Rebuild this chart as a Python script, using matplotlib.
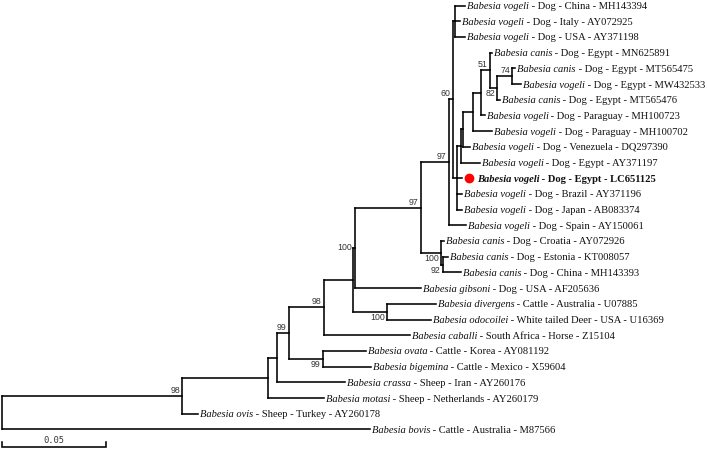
import matplotlib
matplotlib.use("Agg")
import matplotlib.pyplot as plt
from matplotlib.collections import LineCollection
from matplotlib import transforms

# ---------------- tree data (branch lengths in substitutions/site) ----------------
edge_child = ['A', 'M87566',
              'B', 'AY260178',
              'C', 'AY260179',
              'D', 'AY260176',
              'E', 'F',
              'G1', 'Z15104',
              'G2', 'I',
              'H', 'AF205636',
              'J', 'K',
              'L', 'AY150061',
              'M', 'N',
              'MH143394', 'AY072925', 'AY371198',
              'V1', 'LC651125', 'AY371196', 'AB083374',
              'U', 'AY371197',
              'T', 'DQ297390',
              'S', 'MH100702',
              'R', 'MH100723',
              'MN625891', 'Q',
              'P', 'MT565476',
              'MT565475', 'MW432533',
              'AY072926', 'K2',
              'KT008057', 'MH143393',
              'U07885', 'U16369',
              'AY081192', 'X59604']
edge_parent = ['root', 'root',
               'A', 'A',
               'B', 'B',
               'C', 'C',
               'D', 'D',
               'E', 'E',
               'G1', 'G1',
               'G2', 'G2',
               'H', 'H',
               'J', 'J',
               'L', 'L',
               'M', 'M', 'M',
               'N', 'N', 'N', 'N',
               'V1', 'V1',
               'U', 'U',
               'T', 'T',
               'S', 'S',
               'R', 'R',
               'Q', 'Q',
               'P', 'P',
               'K', 'K',
               'K2', 'K2',
               'I', 'I',
               'F', 'F']
edge_length = [0.0865, 0.1769,
               0.0413, 0.0077,
               0.0043, 0.0269,
               0.0058, 0.0327,
               0.0168, 0.0163,
               0.0139, 0.0413,
               0.0010, 0.0163,
               0.0317, 0.0317,
               0.0135, 0.0096,
               0.0019, 0.0082,
               0.0010, 0.0019,
               0.0048, 0.0024, 0.0048,
               0.0019, 0.0024, 0.0024, 0.0024,
               0.0010, 0.0091,
               0.0048, 0.0034,
               0.0038, 0.0091,
               0.0043, 0.0019,
               0.0010, 0.0038,
               0.0072, 0.0010,
               0.0014, 0.0043,
               0.0014, 0.0010,
               0.0024, 0.0087,
               0.0236, 0.0212,
               0.0207, 0.0231]

leaf_accession = ['MH143394', 'AY072925', 'AY371198', 'MN625891', 'MT565475', 'MW432533',
                  'MT565476', 'MH100723', 'MH100702', 'DQ297390', 'AY371197', 'LC651125',
                  'AY371196', 'AB083374', 'AY150061', 'AY072926', 'KT008057', 'MH143393',
                  'AF205636', 'U07885', 'U16369', 'Z15104', 'AY081192', 'X59604',
                  'AY260176', 'AY260179', 'AY260178', 'M87566']
leaf_species = ['Babesia vogeli', 'Babesia vogeli', 'Babesia vogeli', 'Babesia canis',
                'Babesia canis', 'Babesia vogeli', 'Babesia canis', 'Babesia vogeli',
                'Babesia vogeli', 'Babesia vogeli', 'Babesia vogeli', 'Babesia vogeli',
                'Babesia vogeli', 'Babesia vogeli', 'Babesia vogeli', 'Babesia canis',
                'Babesia canis', 'Babesia canis', 'Babesia gibsoni', 'Babesia divergens',
                'Babesia odocoilei', 'Babesia caballi', 'Babesia ovata', 'Babesia bigemina',
                'Babesia crassa', 'Babesia motasi', 'Babesia ovis', 'Babesia bovis']
leaf_desc = [' - Dog - China', ' - Dog - Italy', ' - Dog - USA', ' - Dog - Egypt',
             ' - Dog - Egypt', ' - Dog - Egypt', ' - Dog - Egypt', ' - Dog - Paraguay',
             ' - Dog - Paraguay', ' - Dog - Venezuela', ' - Dog - Egypt', ' - Dog - Egypt',
             ' - Dog - Brazil', ' - Dog - Japan', ' - Dog - Spain', ' - Dog - Croatia',
             ' - Dog - Estonia', ' - Dog - China', ' - Dog - USA', ' - Cattle - Australia',
             ' - White tailed Deer - USA', ' - South Africa - Horse', ' - Cattle - Korea',
             ' - Cattle - Mexico', ' - Sheep - Iran', ' - Sheep - Netherlands',
             ' - Sheep - Turkey', ' - Cattle - Australia']
highlight = 'LC651125'

boot_node = ['A', 'D', 'E', 'F', 'G2', 'I', 'H', 'J', 'L', 'K', 'K2', 'R', 'Q', 'P']
boot_value = [98, 99, 98, 99, 100, 100, 97, 97, 60, 100, 92, 51, 82, 74]
boot_place = ['above', 'above', 'above', 'below', 'center', 'below', 'above', 'above',
              'above', 'below', 'below', 'above', 'below', 'above']

scale_length = 0.05
scale_label = '0.05'

# ---------------- layout ----------------
children, blen, par = {}, {}, {}
for c, p, l in zip(edge_child, edge_parent, edge_length):
    children.setdefault(p, []).append(c)
    blen[c] = l
    par[c] = p

depth = {'root': 0.0}
ypos = {}
order = []


def walk(n):
    if n not in children:
        ypos[n] = len(order)
        order.append(n)
        return
    for c in children[n]:
        depth[c] = depth[n] + blen[c]
        walk(c)
    ch = children[n]
    ypos[n] = (ypos[ch[0]] + ypos[ch[-1]]) / 2.0


walk('root')

PX = 104 / scale_length          # pixels per unit
ROW = 15.7                        # pixels per leaf row
Y0 = 5.5                          # pixel y of first leaf

fig = plt.figure(figsize=(7.07, 4.5), dpi=100)
ax = fig.add_axes([0, 0, 1, 1])
ax.set_xlim(-2 / PX, 705 / PX)
ax.set_ylim((450 - Y0) / ROW, -Y0 / ROW)
ax.axis('off')

segs = []
for n, ch in children.items():
    segs.append([(depth[n], ypos[ch[0]]), (depth[n], ypos[ch[-1]])])
for c in blen:
    segs.append([(depth[par[c]], ypos[c]), (depth[c], ypos[c])])
ax.add_collection(LineCollection(segs, colors='black', linewidths=1.15,
                                 capstyle='projecting', joinstyle='miter'))

# leaf labels
serif = 'Liberation Serif'
fs = 7.6
firsts = []
for acc, sp in zip(leaf_accession, leaf_species):
    x, y = depth[acc], ypos[acc]
    bold = acc == highlight
    off = 15 if bold else 2
    if bold:
        tr = transforms.offset_copy(ax.transData, fig=fig, x=7, y=0, units='dots')
        ax.plot([x], [y], 'o', ms=6, color='#ff0000', mec='#ff0000', transform=tr)
    t = ax.annotate(sp, xy=(x, y), xytext=(off, 0), textcoords='offset pixels',
                    ha='left', va='center_baseline', family=serif, fontsize=fs,
                    fontstyle='italic', fontweight='bold' if bold else 'normal',
                    color='#111111')
    firsts.append((t, off))

fig.canvas.draw()
rend = fig.canvas.get_renderer()
for (t, off), acc, desc in zip(firsts, leaf_accession, leaf_desc):
    x, y = depth[acc], ypos[acc]
    bold = acc == highlight
    w = t.get_window_extent(rend).width
    ax.annotate(desc + ' - ' + acc, xy=(x, y), xytext=(off + w, 0),
                textcoords='offset pixels', ha='left', va='center_baseline',
                family=serif, fontsize=fs, fontweight='bold' if bold else 'normal',
                color='#111111')

# bootstrap values
for n, v, pl in zip(boot_node, boot_value, boot_place):
    x, y = depth[n], ypos[n]
    if pl == 'above':
        xt, va = (-2, 1), 'bottom'
    elif pl == 'below':
        xt, va = (-2, -1), 'top'
    else:
        xt, va = (-3, 0), 'center'
    ax.annotate(str(v), xy=(x, y), xytext=xt, textcoords='offset pixels',
                ha='right', va=va, family='Liberation Sans', fontsize=6.3,
                color='#333333')

# scale bar
yb = (447 - Y0) / ROW
tick = 5 / ROW
ax.plot([0, 0, scale_length, scale_length], [yb - tick, yb, yb, yb - tick],
        color='black', lw=1.15, solid_capstyle='projecting', solid_joinstyle='miter')
ax.annotate(scale_label, xy=(scale_length / 2, yb), xytext=(0, 2),
            textcoords='offset pixels', ha='center', va='bottom',
            family='DejaVu Sans Mono', fontsize=6.3, color='#333333')

fig.savefig('out.png', dpi=100)
